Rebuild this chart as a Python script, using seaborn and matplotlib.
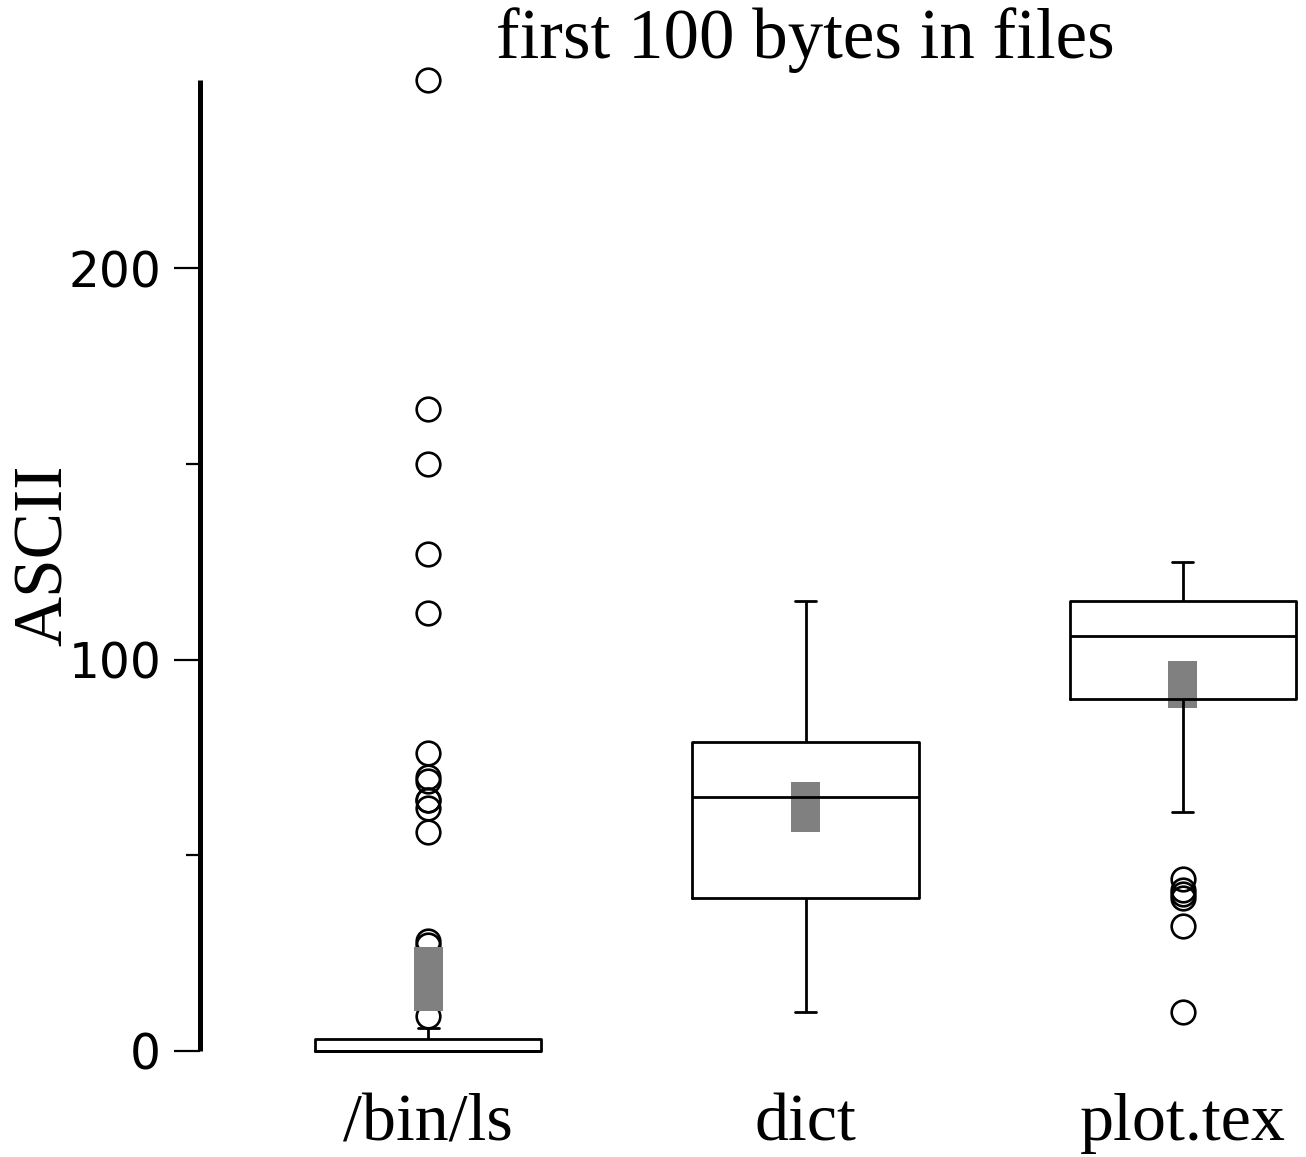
import numpy as np
import pandas as pd
import matplotlib
matplotlib.use("Agg")
import matplotlib.pyplot as plt
import seaborn as sns

# ---- data ----
files = ["/bin/ls", "dict", "plot.tex"]

# byte values and how often they occur (reconstructed from the box statistics)
ls_values = [0, 1, 2, 3, 4, 5, 6, 9, 27, 28, 56, 62, 64, 69, 70, 76, 112, 127, 150, 164, 248]
ls_counts = [44, 4, 3, 4, 1, 1, 1, 1, 1, 1, 1, 1, 2, 1, 1, 1, 1, 1, 1, 1, 1]

dict_values = [10, 32, 39, 50, 65, 72, 79, 100, 115]
dict_counts = [1, 1, 1, 1, 1, 1, 1, 1, 1]

tex_values = [10, 32, 39, 40, 41, 44, 61, 90, 97, 99, 100, 101, 104, 105, 106,
              108, 109, 110, 111, 112, 114, 115, 116, 117, 118, 120, 121, 125]
tex_counts = [1, 1, 1, 1, 1, 1, 1, 1, 1, 1, 1, 1, 1, 1, 1,
              1, 1, 1, 1, 1, 1, 1, 2, 1, 1, 1, 1, 1]

# grey interval bars around the mean
mean_lo = [10.2, 55.9, 87.5]
mean_hi = [26.6, 68.7, 99.6]

title = "first 100 bytes in files"
ylabel = "ASCII"
yticks_major = [0, 100, 200]
yticks_minor = [50, 150]

# ---- build long table ----
frames = []
for name, vals, cnts in [(files[0], ls_values, ls_counts),
                         (files[1], dict_values, dict_counts),
                         (files[2], tex_values, tex_counts)]:
    frames.append(pd.DataFrame({"file": name, "ascii": np.repeat(vals, cnts)}))
df = pd.concat(frames, ignore_index=True)

sns.set_style("ticks")
plt.rcParams["font.family"] = ["DejaVu Sans"]
plt.rcParams["text.color"] = "black"
plt.rcParams["axes.edgecolor"] = "black"
plt.rcParams["xtick.color"] = "black"
plt.rcParams["ytick.color"] = "black"

W, H = 1306, 1157
fig = plt.figure(figsize=(W / 100, H / 100), dpi=100)
ax_left, ax_right, ax_bottom, ax_top = 200, 1306, 1060, 60
ax = fig.add_axes([ax_left / W, 1 - ax_bottom / H,
                   (ax_right - ax_left) / W, (ax_bottom - ax_top) / H])

lw = 2.0
sns.boxplot(data=df, x="file", y="ascii", order=files, ax=ax,
            fill=False, width=0.6, color="black", linecolor="black",
            linewidth=lw, whis=1.5, capwidths=0.056,
            boxprops=dict(zorder=4, color="black"),
            medianprops=dict(zorder=4, color="black"),
            whiskerprops=dict(zorder=4, color="black"),
            capprops=dict(zorder=4, color="black"),
            flierprops=dict(marker="o", markersize=17, markerfacecolor="none",
                            markeredgecolor="black", markeredgewidth=1.9,
                            zorder=2))

pos = np.arange(len(files))
ax.bar(pos, np.array(mean_hi) - np.array(mean_lo), bottom=mean_lo,
       width=0.077, color="#808080", linewidth=0, zorder=3)

# axis scaling: 0 at px 1051, 200 at px 268
ppu = (1051 - 268) / 200.0
ax.set_ylim(-(ax_bottom - 1051) / ppu, (1051 - ax_top) / ppu)
ax.set_xlim(-(428 - ax_left) / 377.0, 2 + (ax_right - 1183) / 377.0)

ax.set_yticks(yticks_major)
ax.set_yticks(yticks_minor, minor=True)
ax.tick_params(axis="y", which="major", length=19, width=1.6, pad=9,
               labelsize=35, colors="black")
ax.tick_params(axis="y", which="minor", length=10, width=1.6, colors="black")
ax.tick_params(axis="x", length=0, pad=24, labelsize=49, colors="black")
for lab in ax.get_xticklabels():
    lab.set_family(["Liberation Serif", "DejaVu Serif"])

for s in ["top", "right", "bottom"]:
    ax.spines[s].set_visible(False)
ax.spines["left"].set_linewidth(3.6)
ax.spines["left"].set_color("black")
ax.spines["left"].set_bounds(0, max(ls_values))
ax.spines["left"].set_capstyle("butt")

ax.set_xlabel("")
ax.set_ylabel("")
fig.text(45 / W, 1 - 555 / H, ylabel, rotation=90, ha="center", va="center",
         fontsize=50, color="black", family=["Liberation Serif", "DejaVu Serif"])
fig.text(805 / W, 1 - 58 / H, title, ha="center", va="baseline",
         fontsize=51, color="black", family=["Liberation Serif", "DejaVu Serif"])

fig.savefig("out.png", dpi=100)
